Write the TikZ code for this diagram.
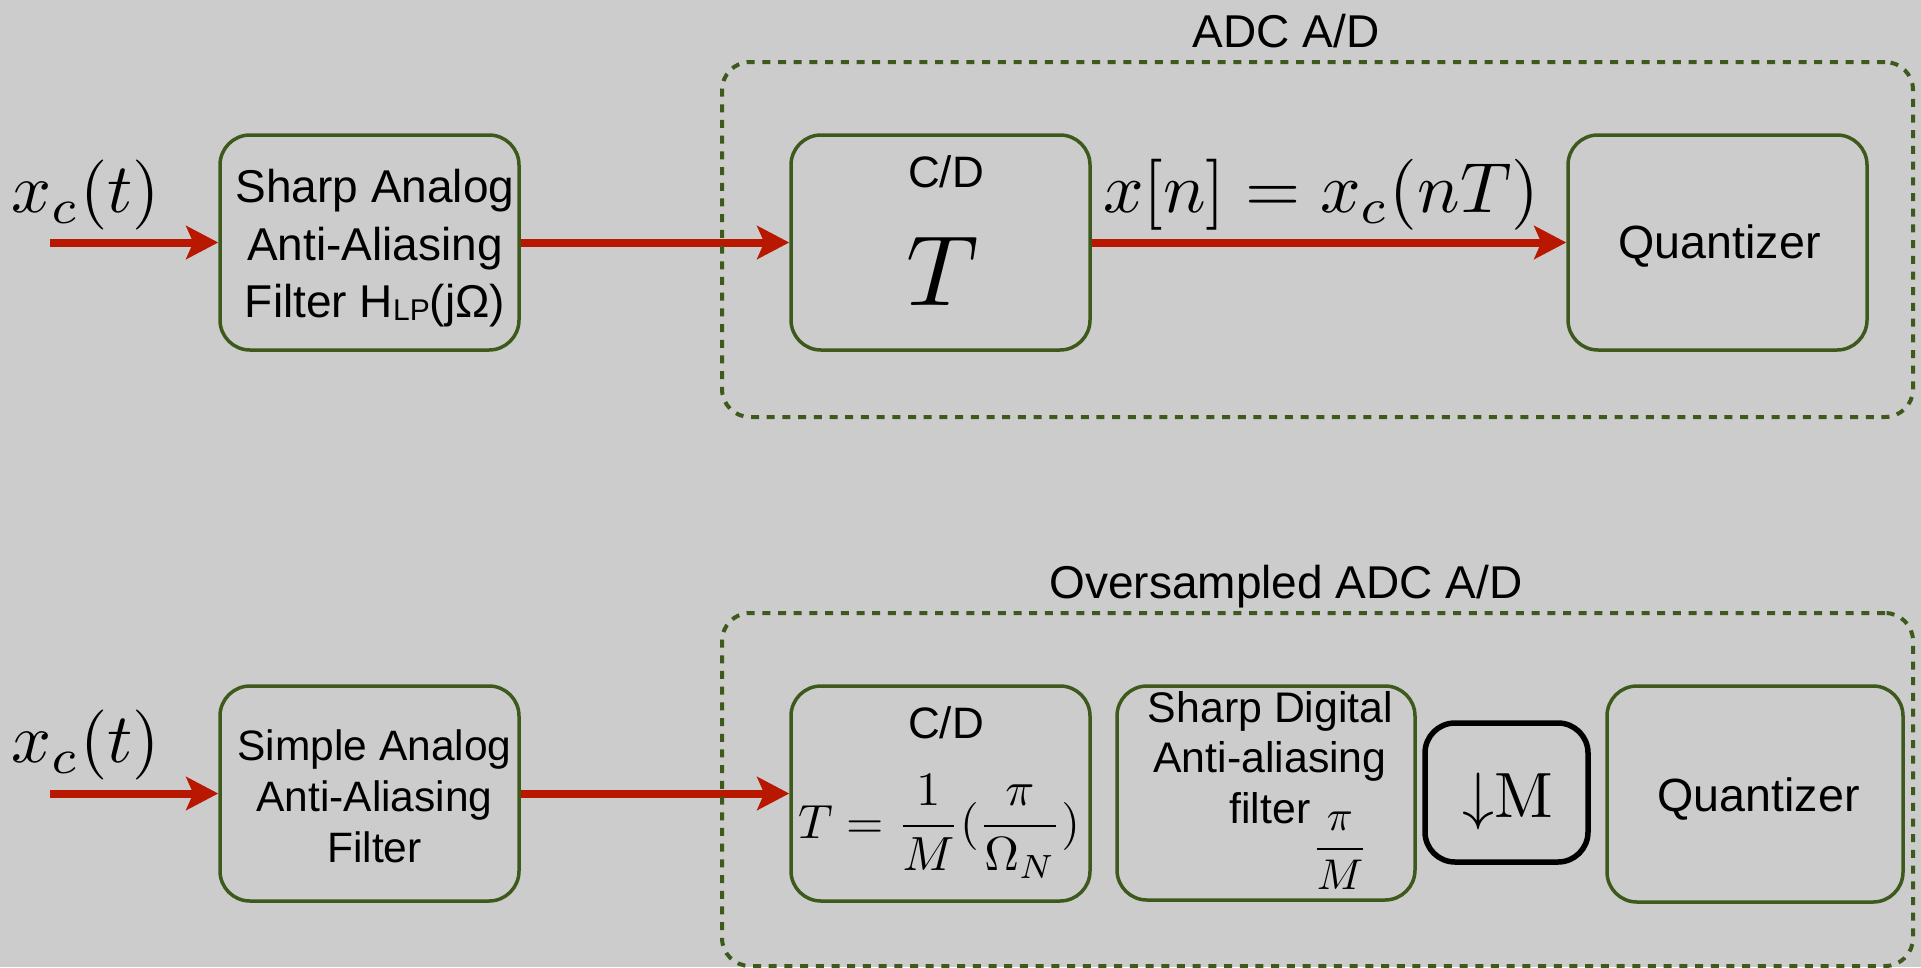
\documentclass[tikz,border=0pt]{standalone}
\usepackage[no-math]{fontspec}
\setmainfont{Liberation Sans}
\usepackage{graphicx}
\usetikzlibrary{arrows.meta}
\definecolor{bg}{RGB}{204,204,204}
\definecolor{boxgreen}{RGB}{61,90,28}
\definecolor{sigred}{RGB}{184,24,0}
\newcommand{\fsz}[1]{\fontsize{#1}{#1}\selectfont}
\begin{document}
\begin{tikzpicture}[x=1pt,y=-1pt,
  gbox/.style={draw=boxgreen, line width=3.5pt, rounded corners=30pt, inner sep=0pt,
    minimum width=299pt, minimum height=215pt},
  txt/.style={anchor=base, inner sep=0pt, text=black},
  sig/.style={draw=sigred, line width=8pt, -{Stealth[length=32pt,width=33pt,inset=7pt]}},
  dashbox/.style={draw=boxgreen, line width=4pt, dash pattern=on 8pt off 7.7pt,
    rounded corners=28pt, inner sep=0pt, minimum width=1191pt}
]
\fill[bg] (0,0) rectangle (1921,967);
\useasboundingbox (0,0) rectangle (1921,967);

% top row boxes
\node[gbox] (f1) at (369.5,242.5) {};
\node[gbox] (cd1) at (940.5,242.5) {};
\node[gbox] (q1) at (1717.5,242.5) {};
% bottom row boxes
\node[gbox] (f2) at (369.5,793.5) {};
\node[gbox] (cd2) at (940.5,793.5) {};
\node[gbox, minimum width=298pt, minimum height=214pt] (sd) at (1266,793) {};
\node[gbox, draw=black, line width=5.5pt, minimum width=163pt, minimum height=139pt] (dm) at (1506.5,792.5) {};
\node[gbox, minimum width=296pt, minimum height=216pt] (q2) at (1755,794) {};

% texts top
\node[txt] (xc1) at (86,212.5) {\scalebox{7}{$x_c(t)$}};
\node[txt] (s1a) at (375,202) {\fsz{46}Sharp Analog};
\node[txt] (s1b) at (375,260) {\fsz{46}Anti-Aliasing};
\node[txt] (s1c) at (375,317) {\fsz{46}Filter H\raisebox{-3pt}{\fsz{30}LP}(jΩ)};
\node[txt] (cdl1) at (946,187) {\fsz{44}C/D};
\node[txt] (T1) at (943,305) {\scalebox{10}{$T$}};
\node[txt] (xn) at (1321,212.5) {\scalebox{7.1}{$x[n]=x_c(nT)$}};
\node[txt] (ql1) at (1719.5,258) {\fsz{46.6}Quantizer};
\node[txt] (adcl) at (1286,47) {\fsz{46}ADC A/D};

% texts bottom
\node[txt] (xc2) at (86,762.5) {\scalebox{7}{$x_c(t)$}};
\node[txt] (s2a) at (374.5,760) {\fsz{42.5}Simple Analog};
\node[txt] (s2b) at (374.5,811.5) {\fsz{42.5}Anti-Aliasing};
\node[txt] (s2c) at (374.5,862) {\fsz{42.5}Filter};
\node[txt] (cdl2) at (946,738) {\fsz{44}C/D};
\node[txt] (fm) at (939,838) {\scalebox{4.8}{$\displaystyle T=\frac{1}{M}(\frac{\pi}{\Omega_N})$}};
\node[txt] (sda) at (1270.5,722) {\fsz{42.8}Sharp Digital};
\node[txt] (sdb) at (1270,772) {\fsz{42.8}Anti-aliasing};
\node[txt] (sdc) at (1270,823) {\fsz{42.8}filter};
\node[txt] (pm) at (1340,860) {\scalebox{4.3}{$\displaystyle\frac{\pi}{M}$}};
\node[txt] (dml) at (1507.5,817) {\scalebox{6.4}{$\mathord{\downarrow}\mathrm{M}$}};
\node[txt] (ql2) at (1758.5,811) {\fsz{46.6}Quantizer};
\node[txt] (oadcl) at (1286,598) {\fsz{46}Oversampled ADC A/D};

% connectors
\coordinate (in1) at (50,242.5);
\coordinate (in2) at (50,793.5);
\draw[sig] (in1) -- (f1.west);
\draw[sig] (f1.east) -- (cd1.west);
\draw[sig] (cd1.east) -- (q1.west);
\draw[sig] (in2) -- (f2.west);
\draw[sig] (f2.east) -- (cd2.west);

% dashed groups
\node[dashbox, minimum height=355pt] (adc) at (1317.5,239.5) {};
\node[dashbox, minimum height=353pt] (oadc) at (1317.5,789.5) {};
\end{tikzpicture}
\end{document}
